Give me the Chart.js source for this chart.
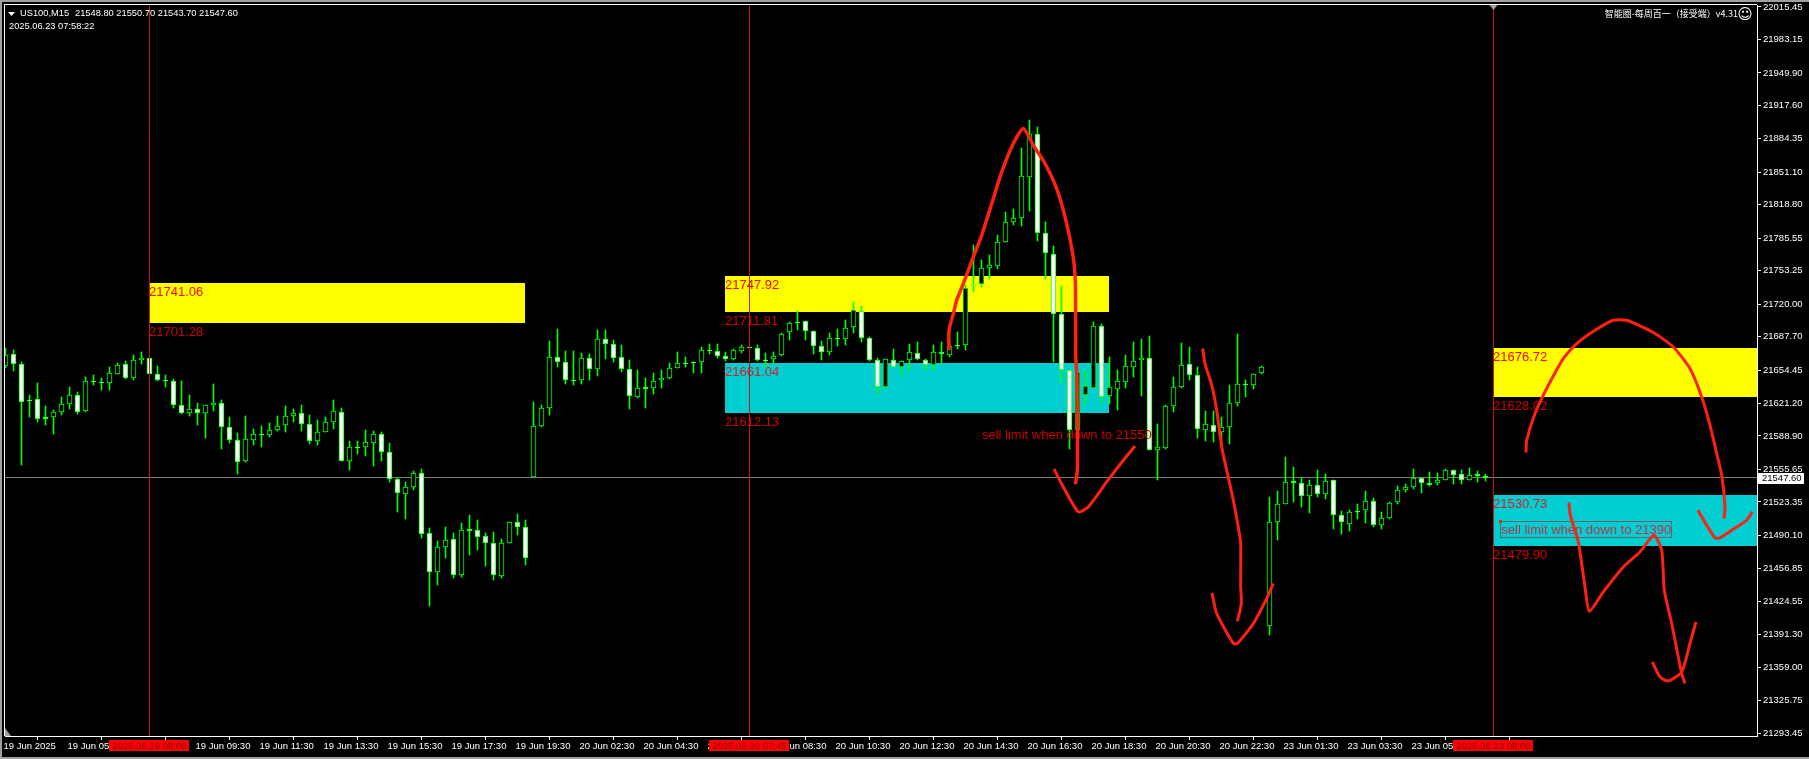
<!DOCTYPE html>
<html>
<head>
<meta charset="utf-8">
<title>US100,M15</title>
<script src="https://cdn.jsdelivr.net/npm/chart.js@4"></script>
<style>
  html, body { margin: 0; padding: 0; background: #000; overflow: hidden; }
  canvas { display: block; }
</style>
</head>
<body>
<canvas id="chart" width="1809" height="759"></canvas>
<script>
/* ─────────────────────────────────────────────
   Data: M15 candles
───────────────────────────────────────────── */
const opens = [
  21658.6,21670.8,21660.9,21625.1,21626.1,21608.2,21607.9,21612.8,21620.8,21630.1,
  21613.5,21644.0,21643.0,21641.7,21650.6,21660.9,21646.7,21664.5,21666.9,21651.0,
  21645.0,21644.0,21620.1,21611.9,21616.2,21611.9,21619.8,21622.1,21598.3,21585.3,
  21564.1,21585.0,21591.3,21590.0,21595.0,21599.9,21608.9,21612.2,21601.2,21584.0,
  21593.0,21602.9,21613.2,21564.1,21578.4,21578.1,21582.0,21591.3,21573.4,21546.6,
  21531.3,21538.3,21552.5,21492.9,21453.8,21478.6,21486.9,21450.8,21496.2,21495.9,
  21489.9,21482.9,21449.8,21482.6,21503.8,21498.8,21548.2,21598.9,21617.1,21667.8,
  21662.9,21645.0,21644.6,21666.8,21655.2,21685.7,21680.8,21667.8,21655.9,21627.7,
  21638.0,21636.7,21644.6,21646.3,21656.6,21661.9,21662.9,21662.5,21674.1,21673.8,
  21668.8,21665.2,21673.5,21677.8,21676.8,21664.9,21665.2,21669.2,21692.4,21702.7,
  21703.6,21693.7,21678.8,21672.5,21686.7,21685.4,21697.3,21713.6,21686.7,21664.9,
  21637.7,21664.9,21657.6,21664.2,21671.8,21664.9,21659.6,21672.8,21669.2,21679.8,
  21679.1,21739.4,21740.1,21756.3,21758.0,21781.9,21801.8,21806.1,21846.5,21889.6,
  21791.2,21770.3,21710.6,21655.0,21595.0,21629.8,21637.1,21698.7,21628.8,21635.7,
  21642.7,21657.6,21664.9,21666.9,21575.1,21577.1,21618.8,21637.7,21660.9,21649.7,
  21595.0,21600.3,21593.3,21598.0,21621.8,21641.0,21639.7,21651.7,21399.5,21502.9,
  21521.4,21544.6,21542.6,21529.7,21540.6,21531.4,21545.6,21510.8,21501.9,21514.8,
  21515.8,21524.7,21500.2,21507.8,21523.4,21535.7,21538.6,21547.3,21542.6,21542.3,
  21545.6,21554.6,21551.6,21545.6,21551.6,21548.8
];
const highs = [
  21676.1,21674.2,21662.2,21629.4,21641.3,21618.5,21614.5,21627.4,21637.4,21632.4,
  21647.3,21649.3,21646.3,21657.9,21661.2,21663.2,21669.2,21672.2,21666.9,21658.3,
  21649.3,21645.3,21643.3,21629.4,21621.5,21620.1,21640.4,21624.4,21607.5,21591.6,
  21608.5,21595.6,21598.6,21601.6,21608.5,21618.5,21616.2,21619.5,21609.5,21604.6,
  21607.5,21624.4,21616.5,21583.7,21583.7,21594.6,21593.6,21592.6,21581.7,21547.6,
  21542.9,21553.9,21555.8,21497.2,21484.3,21498.2,21492.2,21502.2,21510.1,21505.1,
  21492.2,21493.2,21486.3,21503.8,21511.1,21505.1,21622.4,21619.5,21683.1,21695.0,
  21673.1,21673.1,21671.1,21670.2,21694.0,21694.0,21684.1,21679.1,21664.2,21654.2,
  21646.3,21651.3,21654.2,21661.2,21672.1,21667.2,21662.9,21677.1,21680.1,21680.1,
  21672.8,21675.8,21679.8,21677.8,21679.8,21671.8,21672.8,21691.7,21702.7,21712.9,
  21703.6,21693.7,21683.8,21691.7,21695.0,21704.0,21721.9,21718.6,21687.4,21666.9,
  21665.9,21675.1,21663.9,21680.1,21682.1,21665.9,21679.1,21682.1,21682.1,21692.0,
  21738.8,21778.5,21763.6,21768.6,21788.5,21811.4,21814.4,21875.0,21902.9,21895.9,
  21802.1,21777.6,21737.8,21655.0,21653.0,21654.3,21702.0,21700.7,21667.2,21654.3,
  21669.2,21682.1,21685.1,21688.1,21601.3,21620.2,21647.3,21681.1,21677.2,21657.0,
  21613.5,21613.5,21607.6,21639.4,21690.1,21644.4,21651.0,21658.9,21528.0,21534.7,
  21567.8,21557.9,21547.6,21545.6,21554.9,21550.9,21545.6,21514.1,21515.8,21521.7,
  21534.0,21527.0,21513.1,21523.7,21539.6,21541.6,21555.9,21547.3,21552.9,21552.6,
  21556.5,21555.5,21554.6,21556.9,21553.6,21550.7
];
const lows = [
  21656.9,21653.3,21559.8,21607.5,21602.6,21599.6,21590.6,21609.5,21615.5,21610.5,
  21612.5,21639.4,21634.4,21634.4,21650.6,21645.3,21644.3,21660.2,21650.6,21643.3,
  21637.4,21616.5,21610.5,21608.5,21599.6,21586.7,21613.5,21575.7,21581.7,21550.9,
  21562.8,21579.7,21577.7,21587.7,21593.6,21592.6,21602.6,21593.6,21580.7,21579.7,
  21593.0,21595.6,21564.1,21554.9,21570.8,21568.8,21558.8,21563.8,21542.9,21513.1,
  21506.1,21535.0,21487.2,21419.6,21440.5,21467.4,21447.5,21448.5,21470.3,21475.3,
  21459.4,21445.5,21447.5,21482.6,21490.2,21460.4,21548.2,21597.6,21609.5,21657.2,
  21640.3,21639.3,21640.3,21644.3,21648.3,21665.2,21662.2,21652.3,21615.5,21626.4,
  21616.5,21630.4,21636.4,21645.3,21656.6,21657.2,21651.3,21651.3,21670.2,21666.2,
  21663.2,21664.2,21671.2,21676.5,21663.2,21657.6,21659.2,21668.8,21684.1,21694.0,
  21684.1,21670.2,21664.2,21669.2,21678.1,21679.1,21691.1,21682.1,21663.2,21631.1,
  21635.7,21657.6,21649.3,21654.9,21664.2,21654.3,21654.9,21660.9,21667.5,21675.1,
  21674.1,21731.8,21736.8,21744.7,21754.7,21781.9,21798.5,21797.5,21812.4,21782.9,
  21744.8,21662.3,21641.1,21575.8,21590.0,21621.2,21637.1,21621.2,21621.2,21614.5,
  21637.1,21647.3,21628.5,21575.4,21544.9,21575.8,21612.5,21637.1,21644.4,21586.7,
  21583.7,21582.7,21583.7,21580.7,21618.8,21627.5,21635.4,21650.7,21390.9,21485.3,
  21521.4,21523.1,21518.1,21512.1,21528.0,21526.1,21496.2,21491.3,21494.2,21506.2,
  21502.2,21498.2,21496.2,21506.2,21521.4,21533.0,21536.0,21532.0,21539.3,21540.3,
  21544.9,21541.0,21541.0,21544.9,21543.0,21543.7
];
const closes = [
  21669.9,21660.6,21623.1,21623.8,21605.9,21605.9,21613.2,21621.1,21630.1,21612.8,
  21644.0,21642.7,21641.7,21652.0,21659.9,21646.7,21664.9,21666.9,21650.6,21644.7,
  21643.7,21619.8,21611.9,21616.2,21611.9,21620.1,21622.1,21597.9,21585.0,21563.1,
  21586.3,21591.3,21590.0,21595.3,21599.3,21609.2,21612.2,21600.9,21584.0,21593.3,
  21603.2,21614.2,21564.1,21578.4,21577.1,21583.4,21591.3,21573.1,21546.6,21532.3,
  21538.6,21552.5,21491.6,21453.8,21479.0,21485.9,21450.8,21495.9,21494.5,21488.6,
  21482.6,21450.8,21482.9,21503.8,21498.5,21467.7,21599.2,21617.1,21667.8,21662.5,
  21644.6,21643.3,21666.8,21655.2,21685.7,21680.4,21666.5,21655.2,21628.7,21637.0,
  21635.7,21644.0,21647.0,21656.9,21661.9,21660.5,21661.5,21674.8,21673.5,21668.5,
  21665.5,21674.1,21677.8,21676.5,21664.5,21663.5,21668.8,21690.7,21701.7,21701.3,
  21693.4,21678.5,21672.5,21686.7,21685.4,21696.7,21714.6,21686.4,21664.5,21637.7,
  21665.9,21657.6,21663.9,21672.8,21665.2,21659.6,21672.8,21670.5,21678.1,21678.5,
  21736.5,21738.1,21756.3,21759.3,21782.2,21802.1,21806.1,21846.9,21889.6,21791.2,
  21771.3,21710.6,21655.0,21595.3,21653.0,21638.7,21698.7,21627.8,21638.1,21644.0,
  21658.9,21663.9,21666.9,21575.4,21578.1,21619.2,21638.1,21659.9,21649.7,21596.3,
  21601.3,21593.0,21598.0,21622.2,21641.0,21639.7,21651.0,21657.0,21502.9,21521.7,
  21543.6,21542.6,21529.7,21540.6,21531.4,21544.6,21510.8,21502.9,21513.8,21513.8,
  21524.7,21500.2,21507.8,21522.7,21535.7,21538.6,21547.6,21542.6,21540.6,21545.6,
  21554.6,21550.6,21545.6,21550.6,21548.9,21547.6
];

/* axis ticks */
const yTickValues = [
  22015.45,21983.15,21949.90,21917.60,21884.35,21851.10,21818.80,21785.55,
  21753.25,21720.00,21687.70,21654.45,21621.20,21588.90,21555.65,21523.35,
  21490.10,21456.85,21424.55,21391.30,21359.00,21325.75,21293.45
];
const xTickLabels = [
  '19 Jun 2025','19 Jun 05:30','19 Jun 07:30','19 Jun 09:30','19 Jun 11:30','19 Jun 13:30',
  '19 Jun 15:30','19 Jun 17:30','19 Jun 19:30','20 Jun 02:30','20 Jun 04:30','20 Jun 06:30',
  '20 Jun 08:30','20 Jun 10:30','20 Jun 12:30','20 Jun 14:30','20 Jun 16:30','20 Jun 18:30',
  '20 Jun 20:30','20 Jun 22:30','23 Jun 01:30','23 Jun 03:30','23 Jun 05:30','23 Jun 07:30'
];
const barsPerXTick = 8;

/* supply / demand boxes */
const zoneStart  = [18, 90, 90, 186, 186];
const zoneEnd    = [65, 138, 138, 219, 219];
const zoneTop    = [21741.06, 21747.92, 21661.04, 21676.72, 21530.73];
const zoneBottom = [21701.28, 21711.81, 21612.13, 21628.02, 21479.90];
const zoneKinds  = ['sell', 'sell', 'buy', 'sell', 'buy'];

/* vertical session lines and their date flags */
const markerBars   = [18, 93, 186];
const markerLabels = ['2025.06.19 08:00', '2025.06.20 07:45', '2025.06.23 08:00'];

const currentPrice = 21547.60;

/* hand-drawn strokes: [bar, price] */
const strokeA = [[117.94,21674.2],[117.94,21694.0],[118.48,21710.6],[118.9,21723.9],[119.73,21740.5],[120.98,21766.9],[122.03,21788.5],[123.28,21820.0],[124.53,21851.4],[125.98,21879.7],[127.23,21894.6],[128.48,21878.0],[129.94,21859.8],[131.4,21834.9],[132.44,21806.7],[133.4,21770.3],[133.73,21743.8],[133.78,21667.5],[133.94,21647.6],[133.98,21554.9],[133.73,21540.9]];
const strokeB = [[131.06,21556.2],[132.23,21538.3],[134.1,21513.4],[135.35,21518.4],[137.65,21543.2],[139.73,21564.8],[141.19,21579.0]];
const strokeC = [[149.65,21675.9],[149.94,21660.9],[150.78,21639.4],[151.4,21614.5],[152.03,21578.0],[152.65,21554.9],[153.48,21525.0],[154.1,21498.5],[154.4,21482.0],[154.4,21438.8],[154.48,21422.3],[153.98,21404.7]];
const strokeD = [[150.81,21432.9],[151.4,21412.4],[153.48,21382.6],[153.98,21382.6],[155.98,21402.4],[157.65,21427.3],[158.48,21442.2]];
const strokeE = [[190.06,21572.5],[190.15,21584.7],[191.19,21611.2],[192.65,21636.1],[194.73,21665.9],[196.4,21680.8],[198.69,21694.0],[200.98,21704.0],[202.65,21704.0],[205.98,21691.8],[208.48,21677.4],[210.56,21656.0],[212.03,21627.7],[213.06,21599.6],[213.9,21571.5],[214.53,21549.9],[214.94,21518.4],[214.81,21506.8]];
const strokeF = [[211.56,21515.1],[212.65,21500.2],[213.69,21487.6],[214.31,21487.6],[216.4,21498.5],[217.65,21505.1],[218.35,21513.4]];
const strokeG = [[195.44,21522.7],[195.56,21511.8],[196.6,21483.6],[197.44,21438.8],[197.98,21414.7],[199.73,21433.9],[202.23,21458.7],[204.31,21473.6],[206.06,21490.2],[207.03,21475.3],[207.35,21435.6],[208.28,21402.4],[209.1,21369.2],[209.53,21352.7],[209.94,21342.8]];
const strokeH = [[205.85,21364.3],[206.81,21349.4],[207.85,21345.4],[209.53,21354.3],[210.56,21382.6],[211.31,21404.0]];
const handStrokes = [strokeA, strokeB, strokeC, strokeD, strokeE, strokeF, strokeG, strokeH];

/* ─────────────────────────────────────────────
   Colours and fonts
───────────────────────────────────────────── */
const colors = {
  candle: '#00ff00',
  bull: '#000000',
  bear: '#ffffff',
  yellow: '#ffff00',
  cyan: '#00ced1',
  priceLine: '#808080',
  marker: '#c81414',
  stroke: '#ff2010',
  flag: '#ff0000',
  flagText: '#800000',
  frame: '#a0a0a0'
};
const axisFont = { family: '"Liberation Sans", sans-serif', size: 9.5 };
const labelFont = '13px "Liberation Sans", Arial, sans-serif';
const uiFont = '9.3px "Liberation Sans", sans-serif';

const barIndex = opens.map((_, i) => i);
const yMax = 22017.40;
const yMin = 21290.63;
const bodyDatasetIndex = handStrokes.length + markerBars.length;

/* ─────────────────────────────────────────────
   Plugins: things Chart.js has no mark for
───────────────────────────────────────────── */
// terminal candles sit on whole pixels, so snap the bar ends before drawing
const snapBarsPlugin = {
  id: 'snapBars',
  beforeDatasetsDraw(chart) {
    chart.getSortedVisibleDatasetMetas().forEach(meta => {
      if (meta.type !== 'bar') return;
      meta.data.forEach(bar => {
        const a = Math.round(bar.y);
        const b = Math.round(bar.base);
        bar.y = Math.min(a, b);
        bar.base = Math.max(b, a) === a && a === b ? a + 1 : Math.max(a, b);
      });
    });
  }
};

const zonesPlugin = {
  id: 'zones',
  beforeDatasetsDraw(chart) {
    const { ctx, chartArea, scales: { x, y } } = chart;
    ctx.save();
    zoneStart.forEach((start, i) => {
      const left = Math.round(x.getPixelForValue(start));
      const right = Math.min(Math.round(x.getPixelForValue(zoneEnd[i])), chartArea.right);
      const top = Math.round(y.getPixelForValue(zoneTop[i]));
      const bottom = Math.round(y.getPixelForValue(zoneBottom[i]));
      ctx.fillStyle = zoneKinds[i] === 'sell' ? colors.yellow : colors.cyan;
      ctx.fillRect(left, top, right - left, bottom - top);

      ctx.font = labelFont;
      ctx.textBaseline = 'middle';
      ctx.textAlign = 'left';
      ctx.fillStyle = zoneKinds[i] === 'sell' ? '#ff0000' : '#d8202f';
      ctx.fillText(zoneTop[i].toFixed(2), left, top + 9);
      ctx.fillStyle = '#d40000';
      ctx.fillText(zoneBottom[i].toFixed(2), left, bottom + 9);
    });
    ctx.restore();
  },
  // order notes sit on the candles but under the marker lines and pen strokes
  afterDatasetDraw(chart, args) {
    if (args.index !== bodyDatasetIndex) return;
    const { ctx, scales: { x, y } } = chart;
    ctx.save();
    ctx.font = labelFont;
    ctx.textBaseline = 'middle';
    ctx.textAlign = 'left';
    ctx.fillStyle = '#cc0000';
    ctx.fillText('sell limit when down to 21550', x.getPixelForValue(122.06), y.getPixelForValue(21589.7));
    const noteX = x.getPixelForValue(186.98);
    const noteY = y.getPixelForValue(21495.2);
    ctx.fillStyle = '#c0304a';
    ctx.fillText('sell limit when down to 21390', noteX, noteY);
    ctx.strokeStyle = '#70606a';
    ctx.lineWidth = 1;
    ctx.strokeRect(Math.round(noteX) - 0.5, Math.round(noteY) - 8.5, 171, 16);
    ctx.strokeStyle = '#ff2010';
    ctx.strokeRect(Math.round(noteX) - 1.5, Math.round(noteY) - 9.5, 2, 2);
    ctx.restore();
  }
};

const overlayPlugin = {
  id: 'overlay',
  afterDraw(chart) {
    const { ctx, chartArea, scales: { x, y } } = chart;
    ctx.save();

    // window edge and chart frame
    ctx.fillStyle = colors.frame;
    ctx.fillRect(0, 0, 1809, 2);
    ctx.fillRect(0, 0, 2, 759);
    ctx.fillRect(0, 757, 1809, 2);
    ctx.fillStyle = '#ffffff';
    ctx.fillRect(4, 4, chartArea.right - 4, 1);
    ctx.fillRect(4, 4, 1, chartArea.bottom - 4);

    // scroll marks
    ctx.fillStyle = '#9aa0a8';
    ctx.beginPath();
    ctx.moveTo(5, 728); ctx.lineTo(5, 736); ctx.lineTo(11, 736);
    ctx.fill();
    const shiftX = x.getPixelForValue(186);
    ctx.beginPath();
    ctx.moveTo(shiftX - 4, 5); ctx.lineTo(shiftX + 4, 5); ctx.lineTo(shiftX, 10);
    ctx.fill();

    // date flags over the time axis
    ctx.font = axisFont.size + 'px ' + axisFont.family;
    ctx.textBaseline = 'middle';
    ctx.textAlign = 'center';
    markerBars.forEach((bar, i) => {
      const cx = x.getPixelForValue(bar);
      ctx.fillStyle = colors.flag;
      ctx.fillRect(Math.round(cx - 40), 740, 80, 11);
      ctx.fillStyle = colors.flagText;
      ctx.fillText(markerLabels[i], cx, 746);
    });

    // current price tag
    const tagY = y.getPixelForValue(currentPrice);
    ctx.fillStyle = '#ffffff';
    ctx.fillRect(1758, Math.round(tagY) - 5, 46, 11);
    ctx.fillStyle = '#000000';
    ctx.textAlign = 'left';
    ctx.fillText(currentPrice.toFixed(2), 1762, tagY + 0.5);

    // header, top left
    ctx.fillStyle = '#ffffff';
    ctx.beginPath();
    ctx.moveTo(8, 12); ctx.lineTo(15, 12); ctx.lineTo(11.5, 16);
    ctx.fill();
    ctx.font = uiFont;
    ctx.fillText('US100,M15', 20, 13);
    ctx.fillText('21548.80 21550.70 21543.70 21547.60', 75, 13);
    ctx.fillText('2025.06.23 07:58:22', 9, 26);

    // expert name, top right
    ctx.textAlign = 'right';
    ctx.font = '9px "Noto Sans CJK SC", sans-serif';
    ctx.fillText('智能圈-每周百一（接受端）v4.31', 1738, 14);
    ctx.font = '15px "DejaVu Sans", sans-serif';
    ctx.textAlign = 'center';
    ctx.fillText('☺', 1745, 15);
    ctx.restore();
  }
};

/* ─────────────────────────────────────────────
   Chart
───────────────────────────────────────────── */
function lineThrough(points, color, width, order, tension = 0) {
  return {
    type: 'line',
    data: points.map(([x, y]) => ({ x, y })),
    borderColor: color,
    borderWidth: width,
    pointRadius: 0,
    tension,
    order
  };
}

function initCandleChart() {
  const ctx = document.getElementById('chart');

  new Chart(ctx, {
    data: {
      datasets: [
        ...handStrokes.map((s, i) => lineThrough(s, colors.stroke, i === 0 ? 3.5 : 3, 1, 0.2)),
        ...markerBars.map(bar => lineThrough([[bar, yMin], [bar, yMax]], colors.marker, 1, 2)),
        {
          type: 'bar',
          data: barIndex.map(i => ({ x: i, y: [opens[i], closes[i]] })),
          backgroundColor: barIndex.map(i => closes[i] >= opens[i] ? colors.bull : colors.bear),
          borderColor: colors.candle,
          borderWidth: 1,
          borderSkipped: false,
          barThickness: 5,
          grouped: false,
          order: 3
        },
        {
          type: 'bar',
          data: barIndex.map(i => ({ x: i, y: [lows[i], highs[i]] })),
          backgroundColor: colors.candle,
          borderWidth: 0,
          barThickness: 1,
          grouped: false,
          order: 4
        },
        lineThrough([[-1, currentPrice], [220, currentPrice]], colors.priceLine, 1, 5)
      ]
    },
    options: {
      responsive: false,
      animation: false,
      events: [],
      layout: { padding: { left: 5, top: 5, right: 0, bottom: 0 } },
      plugins: { legend: { display: false }, tooltip: { enabled: false } },
      scales: {
        x: {
          type: 'linear',
          position: 'bottom',
          min: -0.0625,
          max: 218.94,
          offset: false,
          afterFit: axis => {
            axis.height = 23;
            axis.paddingLeft = 0;
            axis.paddingRight = 0;
          },
          afterBuildTicks: axis => {
            axis.ticks = xTickLabels.map((_, i) => ({ value: i * barsPerXTick }));
          },
          grid: { drawOnChartArea: false, color: '#ffffff', tickLength: 4 },
          border: { color: '#ffffff' },
          ticks: {
            color: '#ffffff',
            font: axisFont,
            padding: 1,
            align: 'start',
            labelOffset: -2,
            maxRotation: 0,
            autoSkip: false,
            callback: v => xTickLabels[v / barsPerXTick]
          }
        },
        y: {
          type: 'linear',
          position: 'right',
          min: yMin,
          max: yMax,
          afterFit: axis => {
            axis.width = 52;
            axis.paddingTop = 0;
            axis.paddingBottom = 0;
          },
          afterBuildTicks: axis => {
            axis.ticks = yTickValues.map(value => ({ value }));
          },
          grid: { drawOnChartArea: false, color: '#ffffff', tickLength: 4 },
          border: { color: '#ffffff' },
          ticks: {
            color: '#ffffff',
            font: axisFont,
            padding: 2,
            callback: v => v.toFixed(2)
          }
        }
      }
    },
    plugins: [snapBarsPlugin, zonesPlugin, overlayPlugin]
  });
}

document.addEventListener('DOMContentLoaded', initCandleChart);
</script>
</body>
</html>
